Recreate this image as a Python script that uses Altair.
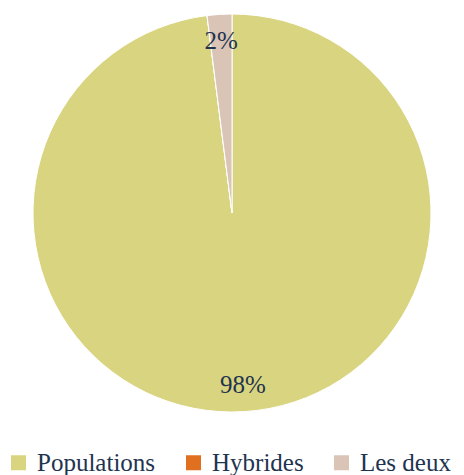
import altair as alt
import pandas as pd

categories = ["Populations", "Hybrides", "Les deux"]
values = [98, 0, 2]
labels = ["98%", "", "2%"]
colors = ["#D9D47F", "#E07020", "#D9C4B6"]

df = pd.DataFrame({"cat": categories, "val": values, "lab": labels, "idx": list(range(len(categories)))})

color = alt.Color("cat:N", scale=alt.Scale(domain=categories, range=colors),
                  sort=categories,
                  legend=alt.Legend(title=None, orient="none", direction="horizontal",
                                    legendX=-2, legendY=442, symbolType="square",
                                    symbolSize=225, symbolStrokeWidth=0,
                                    labelFont="Liberation Serif", labelFontSize=25,
                                    labelColor="#1F344F", labelOffset=6,
                                    columnPadding=25, labelLimit=300))

base = alt.Chart(df).encode(
    theta=alt.Theta("val:Q", stack=True),
    order=alt.Order("idx:Q"),
    x=alt.value(224), y=alt.value(205),
)

arcs = base.mark_arc(outerRadius=199, stroke="white", strokeWidth=1).encode(color=color)
text = base.transform_filter("datum.val > 0").mark_text(
    radius=172, font="Liberation Serif", fontSize=25, color="#1F344F"
).encode(text="lab:N")

chart = (arcs + text).properties(
    width=448, height=467,
    autosize=alt.AutoSizeParams(type="none"),
    padding=0,
).configure_view(stroke=None)

chart.save("out.html", embed_options={"renderer": "svg", "actions": False})
